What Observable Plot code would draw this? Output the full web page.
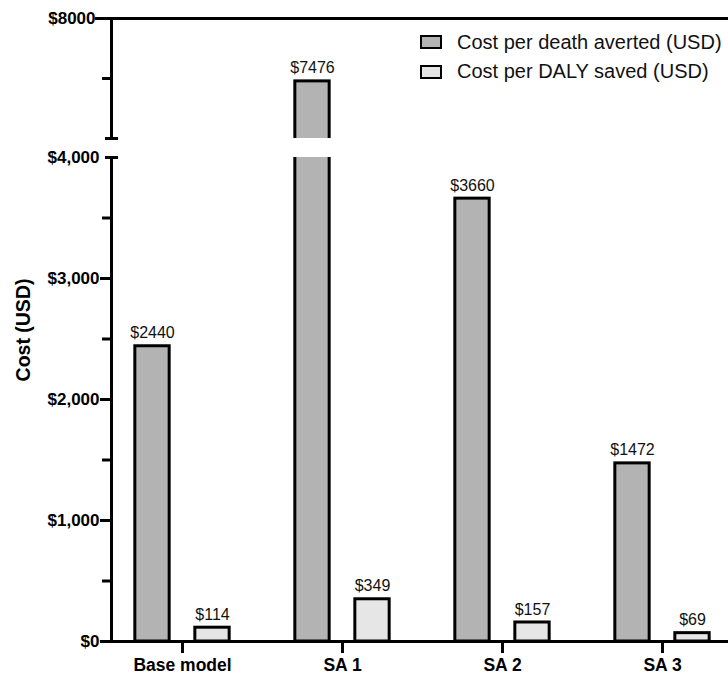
<!DOCTYPE html>
<html>
<head>
<meta charset="utf-8">
<script src="https://cdn.jsdelivr.net/npm/d3@7"></script>
<script src="https://cdn.jsdelivr.net/npm/@observablehq/plot@0.6"></script>
<style>
  body { margin: 0; background: #fff; }
  #wrap { position: relative; width: 728px; height: 675px; font-family: "Liberation Sans", Arial, Helvetica, sans-serif; }
  .legend { position: absolute; left: 420px; top: 27.5px; font-size: 20px; color: #111; }
  .item { display: flex; align-items: center; height: 29.5px; white-space: nowrap; }
  .sw { width: 18px; height: 10px; border: 2.5px solid #000; margin-right: 15px; }
</style>
</head>
<body>
<div id="wrap"></div>
<script>
// ---- data ----
const categories = ["Base model", "SA 1", "SA 2", "SA 3"];
const seriesNames = ["Cost per death averted (USD)", "Cost per DALY saved (USD)"];
const deathCost = [2440, 7476, 3660, 1472];
const dalyCost = [114, 349, 157, 69];
const yTicks = [0, 1000, 2000, 3000, 4000, 8000];
const yTickLabels = ["$0", "$1,000", "$2,000", "$3,000", "$4,000", "$8000"];
const yMinorTicks = [500, 1500, 2500, 3500, 7500];
const yBreak = [4000, 7000];
const yMax = 8000;
const seriesFill = ["#b3b3b3", "#e6e6e6"];

// ---- layout ----
const W = 728, H = 675, mL = 111, mR = 0, mT = 18, mB = 34;
const step = 160.67, firstCenter = 181, barW = 35, offset = 30;
const inset = (step - barW) / 2;
const font = '"Liberation Sans", Arial, Helvetica, sans-serif';

const rows = categories.map((c, i) => ({category: c, death: deathCost[i], daly: dalyCost[i]}));
const labelFor = (v) => yTickLabels[yTicks.indexOf(v)];
const sw = 3;

const chart = Plot.plot({
  width: W, height: H,
  marginLeft: mL, marginRight: mR, marginTop: mT, marginBottom: mB,
  style: {fontFamily: font, color: "#000", background: "#fff"},
  x: {domain: categories, range: [firstCenter - step / 2, firstCenter - step / 2 + categories.length * step], padding: 0, label: null},
  y: {type: "linear", domain: [0, yBreak[0], yBreak[1], yMax], range: [H - mB, 157, 138, mT], label: null},
  marks: [
    Plot.barY(rows, {x: "category", y: "death", dx: -offset, insetLeft: inset, insetRight: inset,
      fill: seriesFill[0], stroke: "#000", strokeWidth: sw}),
    Plot.barY(rows, {x: "category", y: "daly", dx: offset, insetLeft: inset, insetRight: inset,
      fill: seriesFill[1], stroke: "#000", strokeWidth: sw}),
    Plot.frame({anchor: "left", strokeWidth: sw}),
    Plot.ruleY([0, yMax], {strokeWidth: sw}),
    // axis break gap
    Plot.rect([yBreak], {y1: (d) => d[0], y2: (d) => d[1], fill: "#fff", insetLeft: -6}),
    Plot.ruleY(yBreak, {strokeWidth: sw, insetLeft: -6, insetRight: W - mL - mR - 7}),
    // y axis
    Plot.axisY({ticks: yTicks.filter((t) => t < yBreak[0]), tickSize: 11, tickPadding: 1, tickFormat: labelFor,
      strokeWidth: sw, fontSize: 17, fontWeight: "bold", label: null}),
    Plot.axisY({ticks: [yBreak[0]], tickSize: 0, tickPadding: 12, tickFormat: labelFor,
      fontSize: 17, fontWeight: "bold", label: null}),
    Plot.axisY({ticks: [yMax], tickSize: 16, tickPadding: 0, tickFormat: labelFor,
      strokeWidth: sw, fontSize: 17, fontWeight: "bold", label: null}),
    Plot.axisY({ticks: yMinorTicks, tickSize: 9, tickFormat: () => "", strokeWidth: sw, label: null}),
    Plot.text(["Cost (USD)"], {frameAnchor: "left", textAnchor: "middle", rotate: -90, dx: -88,
      fontSize: 19.5, fontWeight: "bold"}),
    // x axis
    Plot.axisX({tickSize: 12, tickPadding: 5, strokeWidth: sw, fontSize: 17.5, fontWeight: "bold", label: null}),
    // value labels
    Plot.text(rows, {x: "category", y: "death", dx: -offset, dy: -8, lineAnchor: "bottom",
      text: (d) => "$" + d.death, fontSize: 16, fill: "#111"}),
    Plot.text(rows, {x: "category", y: "daly", dx: offset, dy: -8, lineAnchor: "bottom",
      text: (d) => "$" + d.daly, fontSize: 16, fill: "#111"})
  ]
});

const wrap = document.getElementById("wrap");
wrap.appendChild(chart);

const legend = document.createElement("div");
legend.className = "legend";
seriesNames.forEach((name, i) => {
  const item = document.createElement("div");
  item.className = "item";
  const box = document.createElement("span");
  box.className = "sw";
  box.style.background = seriesFill[i];
  const label = document.createElement("span");
  label.textContent = name;
  item.appendChild(box);
  item.appendChild(label);
  legend.appendChild(item);
});
wrap.appendChild(legend);
</script>
</body>
</html>
